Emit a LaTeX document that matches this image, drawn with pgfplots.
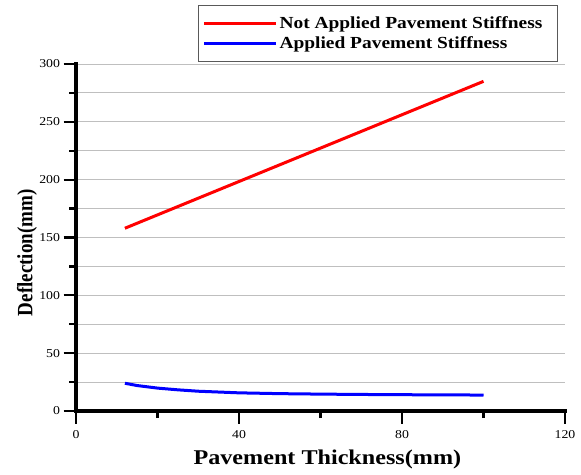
\documentclass[border=0pt]{standalone}
\usepackage{fontspec}
\setmainfont{Liberation Serif}[FakeStretch=1.15]
\newfontfamily\yfont{Liberation Serif}
\usepackage{graphicx}
\usepackage{pgfplots}
\pgfplotsset{compat=1.18}
\pgfplotstableread{
x y
12 158
100 285
}\notapplied
\pgfplotstableread{
x y
12 24
15 22
20 19.8
25 18.3
30 17.1
40 15.7
50 15.0
60 14.6
70 14.3
80 14.1
90 13.9
100 13.8
}\applied
\begin{document}
\begin{tikzpicture}
\useasboundingbox (-76pt,-63pt) rectangle (505pt,411pt);
\begin{axis}[
  at={(0pt,0pt)}, anchor=south west,
  width=489pt, height=347pt, scale only axis,
  xmin=0, xmax=120, ymin=0, ymax=300,
  axis lines*=left,
  axis line style={line width=3pt, black},
  xtick={0,40,80,120}, minor xtick={20,60,100},
  ytick={0,50,...,300}, minor ytick={25,75,...,275},
  ymajorgrids, yminorgrids,
  major grid style={gray!50, line width=0.9pt},
  minor grid style={gray!50, line width=0.9pt},
  tick align=outside,
  major tick length=12.5pt, minor tick length=7pt,
  major tick style={black, line width=2.2pt},
  minor tick style={black, line width=2.2pt},
  /pgf/number format/assume math mode=true,
  tick label style={font=\fontsize{12}{14}\selectfont},
  xticklabel style={yshift=-3pt},
  xlabel={\fontsize{21}{24}\selectfont\bfseries Pavement Thickness(mm)},
  xlabel style={at={(axis description cs:0.514,-0.1556)}, anchor=base},
  ylabel={\scalebox{1}[1.15]{\yfont\fontsize{19}{22}\selectfont\bfseries Deflection(mm)}},
  ylabel style={at={(axis description cs:-0.100,0.456)}, anchor=center, rotate=0},
  legend image code/.code={\draw[#1] (0pt,0pt) -- (72pt,0pt);},
  legend style={at={(axis description cs:0.2495,1.170)}, anchor=north west,
    draw=gray!70!black, line width=1pt,
    font=\fontsize{16.9}{17}\selectfont\bfseries,
    inner xsep=4pt, inner ysep=9.5pt, row sep=2pt,
    cells={anchor=west}},
  clip=false,
]
\addplot[red, line width=3pt] table[x=x,y=y] {\notapplied};
\addlegendentry{Not Applied Pavement Stiffness\hspace*{9pt}}
\addplot[blue, line width=3pt] table[x=x,y=y] {\applied};
\addlegendentry{Applied Pavement Stiffness}
\draw[black, line width=3.2pt, line cap=rect] (rel axis cs:0,0) -- (rel axis cs:1,0);
\draw[black, line width=3.2pt, line cap=rect] (rel axis cs:0,0) -- (rel axis cs:0,1);
\end{axis}
\end{tikzpicture}
\end{document}
